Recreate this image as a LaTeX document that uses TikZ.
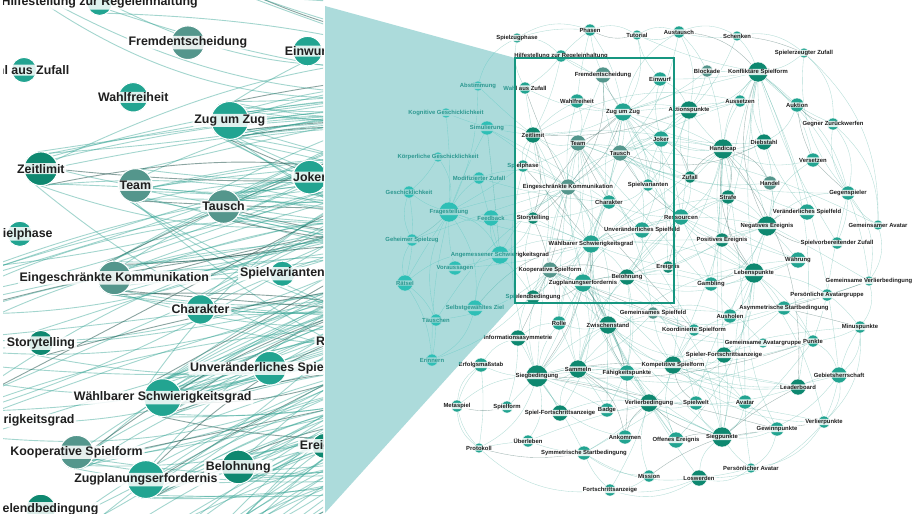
\documentclass[tikz,border=0pt]{standalone}
\usepackage{fontspec}
\setmainfont{Liberation Sans}
\definecolor{nA}{RGB}{34,164,145}
\definecolor{nD}{RGB}{14,136,112}
\definecolor{nG}{RGB}{84,150,140}
\definecolor{eC}{RGB}{52,164,148}
\definecolor{funS}{RGB}{40,165,155}
\definecolor{funM}{RGB}{172,219,219}
\definecolor{frm}{RGB}{22,150,128}
\tikzset{
  vtx/.style={circle, inner sep=0pt, draw=none},
  lab/.style={font=\fontsize{5.9}{6.5}\selectfont\bfseries, text=black!88, fill=white,
    fill opacity=0.85, text opacity=1, rounded corners=1.2pt, inner xsep=0.9pt, inner ysep=0.45pt},
  edge/.style={draw=eC, line width=0.35pt, opacity=0.38},
  edgedark/.style={draw=black!55!eC, line width=0.35pt, opacity=0.42},
  dotc/.style={draw=white, line width=0.4pt},
  frame/.style={draw=frm, line width=1.6pt},
}
\def\nodelist{hil/561/56/6/nA/Hilfestellung zur Regeleinhaltung,
waz/525/88/6/nA/Wahl aus Zufall,
fre/603/75/8/nG/Fremdentscheidung,
ein/660/79/7/nA/Einwurf,
wah/577/101/7/nA/Wahlfreiheit,
zuz/623/112/9/nA/Zug um Zug,
akt/689/110/9/nD/Aktionspunkte,
zei/533/135/8/nD/Zeitlimit,
tea/578/143/8/nG/Team,
tau/620/153/8/nG/Tausch,
jok/661/139/8/nA/Joker,
sph/523/166/6/nA/Spielphase,
ekk/568/187/8/nG/Eingeschränkte Kommunikation,
spv/648/185/6/nA/Spielvarianten,
zuf/690/177/6/nD/Zufall,
cha/609/202/7/nA/Charakter,
sto/533/218/6/nD/Storytelling,
res/681/217/8/nA/Ressourcen,
uvs/642/230/8/nA/Unveränderliches Spielfeld,
wsg/591/244/9/nA/Wählbarer Schwierigkeitsgrad,
kop/550/270/8/nG/Kooperative Spielform,
erg/668/267/6/nD/Ereignis,
bel/627/277/8/nD/Belohnung,
zpe/583/283/9/nA/Zugplanungserfordernis,
seb/533/297/7/nD/Spielendbedingung,
abs/478/86/5/nA/Abstimmung,
kgg/446/113/5/nA/Kognitive Geschicklichkeit,
sim/487/128/7/nA/Simulierung,
kpg/438/157/5/nA/Körperliche Geschicklichkeit,
moz/479/178/6/nA/Modifizierter Zufall,
ges/409/192/6/nA/Geschicklichkeit,
fra/449/212/10/nA/Fragestellung,
fee/491/218/8/nA/Feedback,
gsz/412/240/6/nA/Geheimer Spielzug,
asg/500/255/9/nA/Angemessener Schwierigkeitsgrad,
vor/455/268/7/nA/Voraussagen,
rae/405/283/8/nA/Rätsel,
sgz/475/308/8/nA/Selbstgewähltes Ziel,
tae/436/320/6/nA/Täuschen,
eri/432/360/6/nA/Erinnern,
szp/517/38/5/nA/Spielzugphase,
pha/590/30/6/nA/Phasen,
tut/637/35/5/nA/Tutorial,
aus/679/32/6/nA/Austausch,
sch/737/36/5/nA/Schenken,
sez/804/53/5/nA/Spielerzeugter Zufall,
blo/707/71/6/nG/Blockade,
kon/758/72/10/nD/Konfliktäre Spielform,
ast/740/101/6/nA/Aussetzen,
auk/797/105/7/nA/Auktion,
gzw/833/124/6/nA/Gegner Zurückwerfen,
han/723/149/10/nD/Handicap,
die/764/142/8/nD/Diebstahl,
ver/813/160/7/nA/Versetzen,
hdl/770/183/7/nG/Handel,
str/728/197/7/nD/Strafe,
geg/848/193/7/nA/Gegenspieler,
vsf/807/212/8/nA/Veränderliches Spielfeld,
neg/767/226/10/nD/Negatives Ereignis,
gav/878/225/5/nA/Gemeinsamer Avatar,
svz/837/243/6/nA/Spielvorbereitender Zufall,
pos/722/240/7/nD/Positives Ereignis,
wae/798/260/8/nA/Währung,
leb/754/273/10/nD/Lebenspunkte,
gam/711/284/7/nA/Gambling,
gvb/869/281/5/nA/Gemeinsame Verlierbedingung,
pag/827/295/6/nA/Persönliche Avatargruppe,
asb/784/308/7/nA/Asymmetrische Startbedingung,
ahl/730/316/7/nA/Ausholen,
min/860/327/6/nA/Minuspunkte,
rol/559/323/7/nA/Rolle,
zws/608/325/9/nD/Zwischenstand,
gsf/653/313/6/nG/Gemeinsames Spielfeld,
kos/694/330/6/nA/Koordinierte Spielform,
gag/763/343/5/nA/Gemeinsame Avatargruppe,
pun/813/341/6/nA/Punkte,
inf/518/338/8/nD/Informationsasymmetrie,
erf/481/365/7/nA/Erfolgsmaßstab,
sie/537/376/11/nD/Siegbedingung,
sam/578/369/9/nD/Sammeln,
fae/627/373/8/nA/Fähigkeitspunkte,
kps/673/365/9/nD/Kompetitive Spielform,
spf/724/355/8/nD/Spieler-Fortschrittsanzeige,
geb/839/375/8/nA/Gebietsherrschaft,
lea/798/387/8/nD/Leaderboard,
met/457/406/6/nA/Metaspiel,
sfo/507/407/6/nA/Spielform,
sfa/560/413/8/nD/Spiel-Fortschrittsanzeige,
bad/607/410/7/nA/Badge,
vbd/649/403/9/nD/Verlierbedingung,
swe/696/403/7/nA/Spielwelt,
ava/745/402/7/nA/Avatar,
vlp/824/422/6/nA/Verlierpunkte,
gwp/777/429/7/nA/Gewinnpunkte,
ank/625/437/7/nA/Ankommen,
off/676/440/8/nA/Offenes Ereignis,
sgp/722/437/10/nD/Siegpunkte,
ueb/528/441/6/nA/Überleben,
pro/479/448/5/nA/Protokoll,
ssb/584/453/7/nA/Symmetrische Startbedingung,
pav/751/468/5/nA/Persönlicher Avatar,
mis/649/476/6/nA/Mission,
los/699/478/8/nD/Loswerden,
fsa/610/490/6/nA/Fortschrittsanzeige}
\def\edgelist{zuz/{wah,fre,ein,akt,jok,tau,tea,zei,waz,hil,pha,tut,aus,kon,han,cha,spv,res,wsg,ekk,sto,blo,ast,die,zuf,kps,sie,leb},
wsg/{asg,zpe,kop,bel,uvs,cha,ekk,sto,sph,seb,zei,tea,tau,res,erg,spv,fee,vor,sgz,fra,sie,sam,zws,fae,rol,han,leb,neg,pos,str},
ekk/{tea,zei,sph,sto,kop,cha,wah,waz,fre,tau,jok,fra,fee,moz,sim,asg,inf,rol,kos,zws,tae,gsz},
tea/{zei,wah,tau,fre,kop,kos,cha,sph,sie,zws,off,gsf,gag,gvb,gav,geg},
tau/{jok,aus,sch,die,hdl,han,res,fre,spv,zuf,akt,uvs,wae,ast},
zei/{waz,wah,hil,sph,sto,sim,abs,kgg,zpe,seb,sie,akt,ast,han},
kop/{seb,zpe,sie,rol,inf,kos,gsf,zws,bel,sam,gvb,gag,tae,eri},
zpe/{bel,seb,erg,uvs,sam,zws,fae,sfa,vbd,ank,sgp,kps,sie,rol},
bel/{erg,res,pos,gam,leb,sgp,fae,bad,sam,uvs,wae,neg,str,swe},
kon/{blo,sch,sez,ast,auk,gzw,han,die,ver,hdl,str,neg,akt,ein,aus,tut,geg,vsf,svz,kps,lea,geb,leb},
han/{akt,jok,zuf,res,str,neg,pos,die,hdl,ast,blo,erg,leb,gam,ver,vsf,spf,sgp,ava,lea,bel},
leb/{neg,pos,gam,str,wae,asb,ahl,min,pun,spf,sgp,ava,gwp,vlp,res,erg,swe,off},
neg/{pos,str,hdl,vsf,wae,die,ver,geg,svz,erg,gam,ahl},
sie/{sam,inf,erf,rol,zws,sfa,sfo,met,ueb,pro,fae,bad,vbd,ank,ssb,sgp,kps,lea,pun,gwp,gsf},
sam/{zws,fae,bad,sfa,rol,vbd,ank,sgp,lea,pun,wae,res,ava},
zws/{rol,gsf,fae,kps,kos,spf,lea,sgp,vbd,off,bad},
kps/{kos,spf,vbd,swe,off,sgp,ava,lea,geb,gwp,vlp,min,asb,gag,pun,ahl,gsf,fae},
vbd/{ank,off,sgp,mis,los,swe,fae,bad,sfa,ssb,ueb,fsa,vlp},
sgp/{off,los,gwp,ava,lea,geb,vlp,pav,spf,swe,mis,pun},
fra/{fee,asg,vor,rae,gsz,ges,kpg,moz,kgg,sim,abs,sgz,tae,eri,sph},
asg/{fee,vor,sgz,moz,sim,sto,seb,rae},
res/{akt,zuf,uvs,erg,spv,pos,str,gam,wae},
akt/{ein,jok,aus,blo,ast,zuf,spv},
cha/{sto,uvs,spv,jok,res,rol,sim,moz},
jok/{ein,spv,zuf,uvs,erg,die},
geg/{gav,svz,gvb,pag,auk,gzw,sez,ver},
gsf/{kos,ahl,gag,asb},
asb/{ssb,pag,gvb,min,pun},
ssb/{ueb,pro,mis,fsa,los},
pro/{met,erf,ueb},
met/{erf,sfo},
fsa/{mis,los},
pav/{los,gwp,ava},
geb/{lea,vlp,pun,min},
pun/{min,gag,pag},
eri/{tae,rae,sgz},
rae/{gsz,ges,tae},
ges/{kpg,gsz},
hil/{szp,pha,waz,fre},
szp/{pha,waz,abs},
pha/{tut,fre,wah},
tut/{aus,ein},
aus/{sch,blo},
sch/{sez},
auk/{gzw,ver,die},
sto/{seb,sph,kop},
inf/{erf,rol,sfo}}
\def\ringlist{szp/pha,pha/tut,tut/aus,aus/sch,sch/sez,sez/gzw,gzw/gav,gav/gvb,gvb/min,min/geb,geb/vlp,vlp/pav,pav/los,los/fsa,fsa/pro,pro/met,met/erf,sez/gav,gzw/geg,geg/gvb,vlp/los,min/vlp}
\newcommand\drawnet{%
  \foreach \n/\x/\y/\rr/\cc/\lbl in \nodelist {\node[vtx, minimum size={2*\rr pt}] (\n) at (\x,\y) {};}
  \pgfmathsetseed{4242}
  \foreach \h/\ts in \edgelist {%
    \foreach \tt in \ts {%
      \pgfmathsetmacro\bnd{rand*24}%
      \pgfmathtruncatemacro\dk{rnd<0.12 ? 1 : 0}%
      \ifnum\dk=1 \def\es{edgedark}\else\def\es{edge}\fi
      \draw[\es] (\h) to[bend left=\bnd] (\tt);
    }}
  \foreach \ea/\eb in \ringlist {\draw[edge] (\ea) to[bend left=24] (\eb);}
  \foreach \n/\x/\y/\rr/\cc/\lbl in \nodelist {%
    \filldraw[fill=\cc, dotc] (\n.center) circle (\rr pt);
    \node[lab, minimum width={2*\rr pt}] (\n-l) at (\n.center) {\lbl};}
}
\begin{document}
\begin{tikzpicture}[x=1pt, y=-1pt]
\useasboundingbox (0,0) rectangle (916,515);
\fill[white] (0,0) rectangle (916,515);
% right network
\drawnet
% funnel overlay (screen then multiply) and frame
\begin{scope}[blend mode=screen]
  \fill[funS] (325,6) -- (515,58) -- (515,303) -- (325,513) -- cycle;
\end{scope}
\begin{scope}[blend mode=multiply]
  \fill[funM] (325,6) -- (515,58) -- (515,303) -- (325,513) -- cycle;
\end{scope}
\draw[frame] (515,58) rectangle (674,303);
% left magnified panel
\fill[white] (3,0) rectangle (323,513);
\begin{scope}
  \clip (3,0) rectangle (323,513);
  \begin{scope}[shift={(-1078.5,-114.8)}]
    \begin{scope}[scale=2.1, transform shape, name prefix=L-,
        edge/.style={draw=eC, line width=0.9pt, opacity=0.45},
        edgedark/.style={draw=black!55!eC, line width=0.9pt, opacity=0.5},
        dotc/.style={draw=white, line width=1pt}]
      \drawnet
    \end{scope}
  \end{scope}
\end{scope}
\end{tikzpicture}
\end{document}
